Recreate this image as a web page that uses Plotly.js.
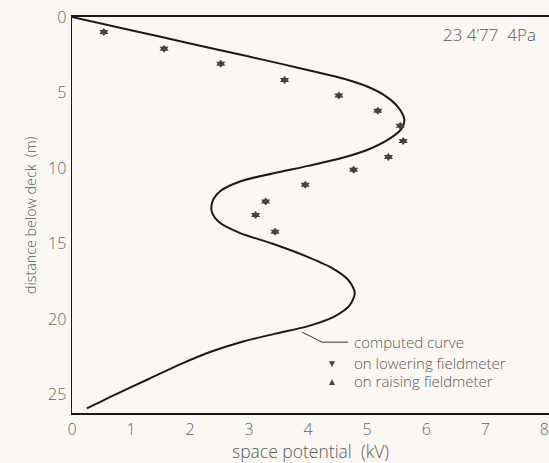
<!DOCTYPE html>
<html>
<head>
<meta charset="utf-8">
<script src="https://cdn.plot.ly/plotly-3.0.1.min.js"></script>
<style>html,body{margin:0;padding:0;background:#fbf8f3;}</style>
</head>
<body>
<div id="chart" style="width:549px;height:463px;"></div>
<script>
// computed curve (space potential kV vs depth m)
const curveKV = [0, 1.0, 2.0, 3.0, 3.6, 4.1, 4.62, 5.0, 5.3, 5.52, 5.63, 5.58, 5.4, 5.06, 4.6, 4.0, 3.4, 2.87, 2.52, 2.38, 2.37, 2.5, 2.85, 3.4, 3.95, 4.4, 4.68, 4.79, 4.7, 4.45, 4.0, 3.45, 2.87, 2.35, 1.85, 1.3, 0.75, 0.25];
const curveDepth = [0, 0.875, 1.75, 2.62, 3.15, 3.6, 4.1, 4.6, 5.2, 5.95, 6.8, 7.4, 8.0, 8.7, 9.3, 9.85, 10.35, 10.85, 11.5, 12.2, 12.9, 13.6, 14.3, 15.0, 15.8, 16.6, 17.4, 18.25, 19.1, 19.8, 20.45, 20.95, 21.5, 22.15, 22.95, 23.95, 24.95, 25.9];

// measured points
const lowerDepth = [0.99, 2.1, 3.1, 4.17, 5.2, 6.2, 7.2, 8.2, 9.26, 10.1, 11.1, 12.2, 13.1, 14.2];
const lowerKV = [0.54, 1.56, 2.52, 3.6, 4.52, 5.18, 5.56, 5.61, 5.36, 4.77, 3.95, 3.28, 3.11, 3.44];
const raiseDepth = [0.99, 2.1, 3.1, 4.17, 5.2, 6.2, 7.2, 8.2, 9.26, 10.1, 11.1, 12.2, 13.1, 14.2];
const raiseKV = [0.54, 1.56, 2.52, 3.6, 4.52, 5.18, 5.56, 5.61, 5.36, 4.77, 3.95, 3.28, 3.11, 3.44];

const xTicks = [0, 1, 2, 3, 4, 5, 6, 7, 8];
const yTicks = [0, 5, 10, 15, 20, 25];

const txt = '#5a5a5a';
const fam = '"Open Sans", "DejaVu Sans", sans-serif';
const fnt = {family: fam, size: 15, color: txt, weight: 300};
const tickFnt = {family: fam, size: 16, color: '#666', weight: 300};

const traces = [
  {x: curveKV, y: curveDepth, mode: 'lines', line: {color: '#1a1a1a', width: 2, shape: 'spline', smoothing: 0.8}, name: 'computed curve', hoverinfo: 'skip'},
  {x: lowerKV, y: lowerDepth, mode: 'markers', marker: {symbol: 'triangle-down', size: 8, color: '#444'}, name: 'on lowering fieldmeter'},
  {x: raiseKV, y: raiseDepth, mode: 'markers', marker: {symbol: 'triangle-up', size: 8, color: '#444'}, name: 'on raising fieldmeter'}
];

const layout = {
  width: 549, height: 463,
  margin: {l: 72, r: 0, t: 17, b: 50},
  paper_bgcolor: '#fbf8f3', plot_bgcolor: '#fbf8f3',
  showlegend: false,
  font: fnt,
  xaxis: {
    range: [0, 8.08], tickvals: xTicks, ticktext: xTicks.map(String),
    showgrid: false, zeroline: false, showline: true, linecolor: '#1a1a1a', linewidth: 2,
    mirror: true, ticks: '', ticklabelstandoff: 1, ticklabeloverflow: 'allow',
    tickfont: tickFnt,
    title: {text: 'space potential  (kV)', font: {family: fam, size: 17.5, color: txt, weight: 300}, standoff: 1}
  },
  yaxis: {
    range: [26.2, 0], tickvals: yTicks, ticktext: yTicks.map(String),
    showgrid: false, zeroline: false, showline: true, linecolor: '#1a1a1a', linewidth: 1.5,
    ticks: '', ticklabelstandoff: 1, tickfont: tickFnt
  },
  shapes: [
    {type: 'path', xref: 'paper', yref: 'paper', path: 'M0.482,0.2045 L0.524,0.179 L0.579,0.179', line: {color: '#333', width: 1}}
  ],
  annotations: [
    {xref: 'paper', yref: 'paper', x: -0.088, y: 0.5, xanchor: 'center', yanchor: 'middle', textangle: -90, text: 'distance below deck  (m)', showarrow: false, font: {family: fam, size: 14.3, color: txt, weight: 300}},
    {xref: 'paper', yref: 'paper', x: 0.588, y: 0.179, xanchor: 'left', yanchor: 'middle', text: 'computed curve', showarrow: false, font: fnt},
    {xref: 'paper', yref: 'paper', x: 0.546, y: 0.126, xanchor: 'center', yanchor: 'middle', text: '▼', showarrow: false, font: {family: fam, size: 10, color: '#444'}},
    {xref: 'paper', yref: 'paper', x: 0.588, y: 0.126, xanchor: 'left', yanchor: 'middle', text: 'on lowering fieldmeter', showarrow: false, font: fnt},
    {xref: 'paper', yref: 'paper', x: 0.546, y: 0.080, xanchor: 'center', yanchor: 'middle', text: '▲', showarrow: false, font: {family: fam, size: 10, color: '#444'}},
    {xref: 'paper', yref: 'paper', x: 0.588, y: 0.080, xanchor: 'left', yanchor: 'middle', text: 'on raising fieldmeter', showarrow: false, font: fnt},
    {xref: 'paper', yref: 'paper', x: 0.977, y: 0.955, xanchor: 'right', yanchor: 'middle', text: '23 4\u201977  4Pa', showarrow: false, font: {family: fam, size: 17, color: txt, weight: 300}}
  ]
};

Plotly.newPlot('chart', traces, layout, {displayModeBar: false, staticPlot: true});
</script>
</body>
</html>
